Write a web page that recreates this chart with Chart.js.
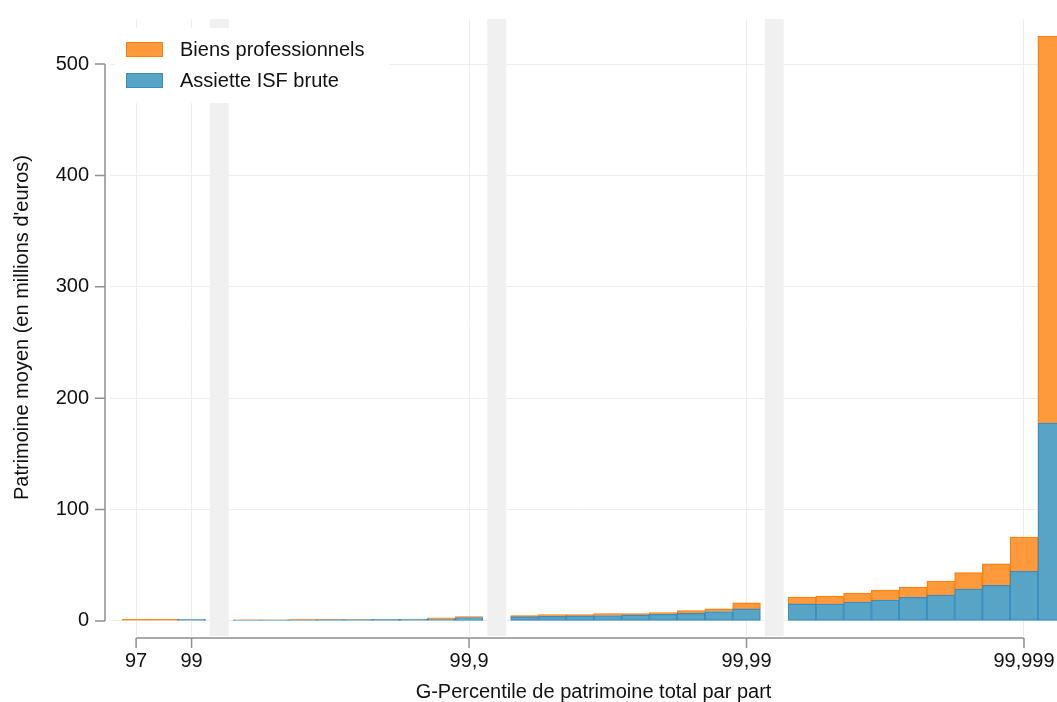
<!DOCTYPE html>
<html lang="fr">
<head>
  <meta charset="UTF-8">
  <title>Patrimoine moyen par G-percentile</title>
  <script src="https://cdn.jsdelivr.net/npm/chart.js"></script>
  <style>
    html, body { margin: 0; padding: 0; background: #fff; overflow: hidden; }
    #wrap { width: 1057px; height: 702px; }
  </style>
</head>
<body>
  <div id="wrap"><canvas id="wealthChart" width="1057" height="702"></canvas></div>

  <script>
    // one slot per bar, '' = gap between groups (grey band)
    const categories = ['97', '98', '99', '',
      '99,1', '99,2', '99,3', '99,4', '99,5', '99,6', '99,7', '99,8', '99,9', '',
      '99,91', '99,92', '99,93', '99,94', '99,95', '99,96', '99,97', '99,98', '99,99', '',
      '99,991', '99,992', '99,993', '99,994', '99,995', '99,996', '99,997', '99,998', '99,999', '99,9991'];

    // millions d'euros
    const assietteISF = [0, 0, 1.5, null,
      0.9, 1.0, 1.1, 1.2, 1.3, 1.4, 1.5, 1.6, 3.0, null,
      3.9, 4.2, 4.5, 4.8, 5.4, 6.0, 6.9, 8.4, 10.8, null,
      15.3, 15.1, 17.0, 18.8, 21.2, 23.3, 28.7, 32.0, 44.6, 177.7];
    const biensPro = [1.4, 1.5, 0.1, null,
      0.05, 0.05, 0.5, 0.6, 0.2, 0.2, 0.2, 1.1, 0.9, null,
      0.9, 1.5, 1.2, 1.8, 1.2, 1.5, 2.4, 2.4, 5.4, null,
      6.2, 7.3, 8.0, 9.0, 9.3, 12.6, 14.7, 19.2, 30.8, 347.3];

    const xTickLabels = ['97', '99', '99,9', '99,99', '99,999'];
    const yTicks = [0, 100, 200, 300, 400, 500];

    const FONT = "'Liberation Sans', Arial, sans-serif";
    const ORANGE = '#fe9a3c', ORANGE_BORDER = '#ff800f';
    const BLUE = '#57a4c6', BLUE_BORDER = '#3a8dbd';

    const toPoints = arr => arr.map((v, i) => ({ x: i, y: v })).filter(p => p.y !== null);

    // grey bands, bracket axes, legend box and x title
    const decor = {
      id: 'decor',
      beforeDatasetsDraw(chart) {
        const { ctx, chartArea: ca, scales: { x } } = chart;
        ctx.save();
        ctx.fillStyle = '#f0f0f0';
        categories.forEach((c, i) => {
          if (c !== '') return;
          const l = x.getPixelForValue(i - 0.34), r = x.getPixelForValue(i + 0.34);
          ctx.fillRect(l, ca.top, r - l, ca.bottom - ca.top);
        });
        ctx.restore();
      },
      afterDraw(chart) {
        const { ctx, chartArea: ca, scales: { x, y } } = chart;
        ctx.save();

        // axes
        ctx.strokeStyle = '#8f8f8f';
        ctx.lineWidth = 1.5;
        const ax = ca.left - 5;
        ctx.beginPath();
        ctx.moveTo(ax, y.getPixelForValue(yTicks[0]));
        ctx.lineTo(ax, y.getPixelForValue(yTicks[yTicks.length - 1]));
        yTicks.forEach(v => {
          const py = y.getPixelForValue(v);
          ctx.moveTo(ax - 10, py);
          ctx.lineTo(ax, py);
        });
        ctx.stroke();

        const ay = ca.bottom + 2;
        const xs = xTickLabels.map(l => x.getPixelForValue(categories.indexOf(l)));
        ctx.beginPath();
        ctx.moveTo(xs[0], ay);
        ctx.lineTo(xs[xs.length - 1], ay);
        xs.forEach(px => {
          ctx.moveTo(px, ay);
          ctx.lineTo(px, ay + 10);
        });
        ctx.stroke();

        // legend
        const lx = ca.left, ly = ca.top;
        ctx.fillStyle = '#fff';
        ctx.fillRect(lx + 5, ly + 9, 275, 75);
        const items = [
          { text: 'Biens professionnels', fill: ORANGE, border: ORANGE_BORDER },
          { text: 'Assiette ISF brute', fill: BLUE, border: BLUE_BORDER }
        ];
        ctx.font = '20px ' + FONT;
        ctx.textBaseline = 'middle';
        ctx.textAlign = 'left';
        items.forEach((it, k) => {
          const by = ly + 23 + k * 31;
          ctx.fillStyle = it.fill;
          ctx.fillRect(lx + 16, by, 37, 15);
          ctx.strokeStyle = it.border;
          ctx.lineWidth = 1;
          ctx.strokeRect(lx + 16.5, by + 0.5, 36, 14);
          ctx.fillStyle = '#111';
          ctx.fillText(it.text, lx + 70, by + 8);
        });

        // x title
        ctx.textAlign = 'center';
        ctx.textBaseline = 'alphabetic';
        ctx.fillText('G-Percentile de patrimoine total par part', (ca.left + ca.right) / 2 + 10, ca.bottom + 62);
        ctx.restore();
      }
    };

    const ctx = document.getElementById('wealthChart');
    new Chart(ctx, {
      type: 'bar',
      data: {
        datasets: [
          {
            label: 'Assiette ISF brute',
            data: toPoints(assietteISF),
            backgroundColor: BLUE,
            borderColor: BLUE_BORDER,
            borderWidth: 1.3,
            borderSkipped: false,
            barPercentage: 1,
            categoryPercentage: 1
          },
          {
            label: 'Biens professionnels',
            data: toPoints(biensPro),
            backgroundColor: ORANGE,
            borderColor: ORANGE_BORDER,
            borderWidth: 1.3,
            borderSkipped: 'start',
            barPercentage: 1,
            categoryPercentage: 1
          }
        ]
      },
      options: {
        responsive: false,
        animation: false,
        devicePixelRatio: 1,
        layout: { padding: { top: 19, left: 0, right: 0, bottom: 0 } },
        plugins: {
          legend: { display: false },
          tooltip: { enabled: false }
        },
        scales: {
          x: {
            type: 'linear',
            stacked: true,
            offset: false,
            min: -0.94,
            max: 33.19,
            afterFit(s) {
              s.height = 66;
              s.paddingLeft = 0;
              s.paddingRight = 0;
            },
            afterBuildTicks(s) {
              s.ticks = xTickLabels.map(l => ({ value: categories.indexOf(l) }));
            },
            grid: { color: '#ededed', drawTicks: false, offset: false },
            border: { display: false },
            ticks: {
              autoSkip: false,
              maxRotation: 0,
              padding: 13,
              color: '#111',
              font: { family: FONT, size: 20 },
              callback: v => categories[v]
            }
          },
          y: {
            stacked: true,
            min: -13.5,
            max: 540.4,
            afterFit(s) {
              s.width = 110;
              s.paddingTop = 0;
              s.paddingBottom = 0;
            },
            afterBuildTicks(s) {
              s.ticks = yTicks.map(v => ({ value: v }));
            },
            grid: { color: '#ededed', drawTicks: false },
            border: { display: false },
            ticks: {
              padding: 21,
              color: '#111',
              font: { family: FONT, size: 20 }
            },
            title: {
              display: true,
              text: "Patrimoine moyen (en millions d'euros)",
              color: '#111',
              font: { family: FONT, size: 20 },
              padding: { top: 10, bottom: 0 }
            }
          }
        }
      },
      plugins: [decor]
    });
  </script>
</body>
</html>
